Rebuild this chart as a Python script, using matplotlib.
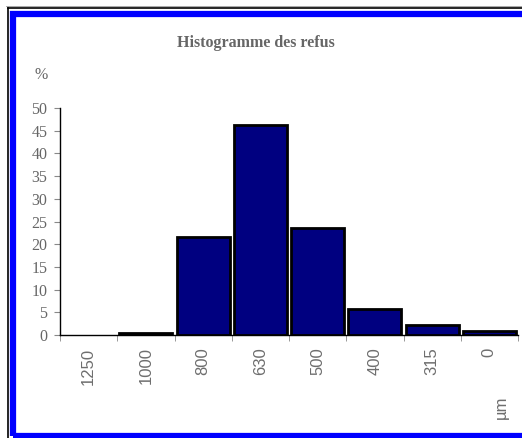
import numpy as np
import matplotlib.pyplot as plt
from matplotlib.patches import Rectangle
from matplotlib.lines import Line2D

sizes = ['1250', '1000', '800', '630', '500', '400', '315', '0']
refus = [0.0, 0.4, 21.6, 46.2, 23.5, 5.7, 2.2, 0.95]
yticks = [0, 5, 10, 15, 20, 25, 30, 35, 40, 45, 50]

W, H = 522, 438
fig = plt.figure(figsize=(W / 100, H / 100), dpi=100)
fig.patch.set_facecolor('white')

# frame: thin black line and thick blue border (cut at the right)
fig.add_artist(Line2D([7.5 / W, 7.5 / W], [0, 1 - 7.5 / H], color='black', lw=1.2, transform=fig.transFigure))
fig.add_artist(Line2D([7.5 / W, 1], [1 - 7.5 / H, 1 - 7.5 / H], color='black', lw=1.2, transform=fig.transFigure))
fig.add_artist(Line2D([6 / W, 1], [1 - 6 / H, 1 - 6 / H], color='#999999', lw=0.6, transform=fig.transFigure))
fig.add_artist(Rectangle((13 / W, 2 / H), 1.2, 1 - 16 / H, fill=False, edgecolor='#0000ff',
                         lw=4.5, transform=fig.transFigure))

ax = fig.add_axes([60 / W, (H - 335) / H, (518 - 60) / W, (335 - 108) / H])
x = np.arange(len(sizes))
# no outline on empty classes
edge_w = [2 if v > 0 else 0 for v in refus]
ax.bar(x, refus, width=0.93, color='#000080', edgecolor='black', linewidth=edge_w, zorder=3)
ax.set_xlim(-0.5, len(sizes) - 0.5)
ax.set_ylim(0, 50)

ax.set_yticks(yticks)
ax.set_yticklabels([str(v) for v in yticks], fontfamily='Liberation Serif', fontsize=11.5, color='#666666')
ax.tick_params(axis='y', direction='out', length=4, color='#888888', pad=5)

ax.set_xticks(x)
ax.set_xticklabels(sizes, rotation=90, fontfamily='Liberation Sans', fontsize=12, color='#6e6e6e')
ax.tick_params(axis='x', which='major', length=0, pad=9)
ax.set_xticks(np.arange(len(sizes) + 1) - 0.5, minor=True)
ax.tick_params(axis='x', which='minor', direction='out', length=4, color='#888888')

for s in ['top', 'right']:
    ax.spines[s].set_visible(False)
ax.spines['left'].set_color('black')
ax.spines['bottom'].set_color('black')
ax.spines['left'].set_linewidth(1)
ax.spines['bottom'].set_linewidth(1)

fig.text(256 / W, 1 - 43 / H, 'Histogramme des refus', ha='center', va='center',
         fontfamily='Liberation Serif', fontweight='bold', fontsize=11.5, color='#666666')
fig.text(41 / W, 1 - 75 / H, '%', ha='center', va='center',
         fontfamily='Liberation Serif', fontsize=11.5, color='#666666')
fig.text(501 / W, 1 - 407 / H, 'µm', ha='center', va='center', rotation=90,
         fontfamily='Liberation Sans', fontsize=12, color='#6e6e6e')

fig.savefig('out.png', dpi=100)
